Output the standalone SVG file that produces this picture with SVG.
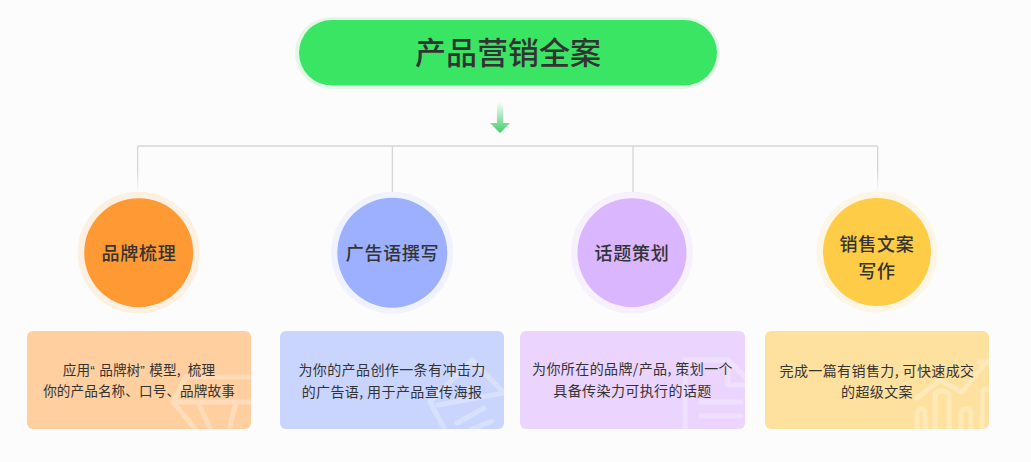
<svg xmlns="http://www.w3.org/2000/svg" width="1031" height="462" viewBox="0 0 1031 462">
<style>
text{font-family:"Noto Sans CJK SC","Noto Sans",sans-serif;fill:#333;text-anchor:middle}
.t{font-size:31px;font-weight:500}
.c{font-size:18px;font-weight:500;letter-spacing:.7px}
.d{font-size:14px;letter-spacing:.4px}
.e{font-size:13.600px;letter-spacing:.1px}
.q{font-family:"Liberation Sans",sans-serif;letter-spacing:4.500px}
.w{fill:none;stroke:#fff;stroke-opacity:.27;stroke-width:5;stroke-linecap:round;stroke-linejoin:round}
.l{stroke:#d6d6d6;stroke-width:1.300;fill:none}
</style>
<defs>
<linearGradient id="ag" x1="0" y1="0" x2="0" y2="1"><stop offset="0" stop-color="#3fcf68" stop-opacity="0"/><stop offset="1" stop-color="#3fcf68"/></linearGradient>
<linearGradient id="lg" x1="0" y1="0" x2="0" y2="1"><stop offset="0" stop-color="#d6d6d6"/><stop offset=".55" stop-color="#d6d6d6"/><stop offset="1" stop-color="#d6d6d6" stop-opacity=".1"/></linearGradient>
<clipPath id="c1"><rect x="27" y="331" width="224" height="98" rx="6"/></clipPath>
<clipPath id="c2"><rect x="280" y="331" width="224" height="98" rx="6"/></clipPath>
<clipPath id="c3"><rect x="520" y="331" width="225" height="98" rx="6"/></clipPath>
<clipPath id="c4"><rect x="765" y="331" width="224" height="98" rx="6"/></clipPath>
</defs>
<rect width="1031" height="462" fill="#fcfcfc"/>
<g id="connectors">
<path d="M497 102h6v21h7l-10 10-10-10h7z" fill="url(#ag)"/>
<path class="l" d="M137.500 146H877.500"/>
<rect x="137" y="146" width="1.300" height="45" fill="url(#lg)"/>
<rect x="877" y="146" width="1.300" height="45" fill="url(#lg)"/>
<path d="M391.700 146h1.300v46h-1.300zM632.400 146h1.300v46h-1.300z" fill="#d6d6d6"/>
</g>
<g id="title">
<rect x="295" y="17" width="425" height="72" rx="36" fill="#e3f7e8"/>
<rect x="299" y="20" width="418" height="65.500" rx="32.700" fill="#3ae564"/>
<text class="t" x="508" y="64">产品营销全案</text>
</g>
<g id="node1">
<circle cx="138.700" cy="252.700" r="61" fill="#fcf0e3"/>
<circle cx="138.700" cy="252.700" r="54.500" fill="#ff9933"/>
<text class="c" x="139" y="260">品牌梳理</text>
</g>
<g id="node2">
<circle cx="392.300" cy="252.700" r="61" fill="#f0f3fd"/>
<circle cx="392.300" cy="252.700" r="55" fill="#9cb0ff"/>
<text class="c" x="392.500" y="260">广告语撰写</text>
</g>
<g id="node3">
<circle cx="632" cy="252.700" r="61" fill="#f6f1fd"/>
<circle cx="632" cy="252.700" r="54.500" fill="#dab6ff"/>
<text class="c" x="632" y="260">话题策划</text>
</g>
<g id="node4">
<circle cx="877" cy="252" r="60.500" fill="#fdf6e7"/>
<circle cx="877" cy="252" r="54" fill="#ffcc47"/>
<text class="c" x="877" y="251">销售文案</text>
<text class="c" x="877" y="277.500">写作</text>
</g>
<g id="card1">
<rect x="27" y="331" width="224" height="98" rx="6" fill="#ffcf9f"/>
<g clip-path="url(#c1)"><path class="w" stroke-width="4.500" d="M186 377H262M186 377L173 402L206 442M173 402H262M198 402L216 442M236 402L226 442M262 402L246 442"/></g>
<text class="e" x="139" y="375">应用<tspan class="q">“</tspan>品牌树<tspan class="q">”</tspan>模型,<tspan dx="4"> 梳理</tspan></text>
<text class="e" x="139" y="395.500">你的产品名称、口号、品牌故事</text>
</g>
<g id="card2">
<rect x="280" y="331" width="224" height="98" rx="6" fill="#c9d5ff"/>
<g clip-path="url(#c2)"><path class="w" d="M430 402L472 360L510 399M430 402L446 432M438 405L510 392"/><path class="w" d="M457 423L484 408M472 429L492 421"/></g>
<text class="d" x="392" y="374.500">为你的产品创作一条有冲击力</text>
<text class="d" x="392" y="396.500">的广告语, 用于产品宣传海报</text>
</g>
<g id="card3">
<rect x="520" y="331" width="225" height="98" rx="6" fill="#ebd5ff"/>
<g clip-path="url(#c3)"><path class="w" d="M685 440V360H728L748 380V440M728 360V385H748"/><path class="w" d="M701 402H741M701 416H741"/></g>
<text class="d" x="632.500" y="374">为你所在的品牌/产品, 策划一个</text>
<text class="d" x="632.500" y="395.500">具备传染力可执行的话题</text>
</g>
<g id="card4">
<rect x="765" y="331" width="224" height="98" rx="6" fill="#ffe19f"/>
<g clip-path="url(#c4)"><path class="w" d="M917 398L940 380L962 392L985 364M979 362H992"/><path class="w" d="M917 440V414Q917 409 921 409Q925 409 925 414V440M935 440V396Q935 391 942 391Q949 391 949 396V440M961 440V414Q961 409 966 409Q971 409 971 414V440M982 440V394Q982 389 988 389Q994 389 994 394V440"/></g>
<text class="d" x="877" y="375.500">完成一篇有销售力, 可快速成交</text>
<text class="d" x="877" y="397">的超级文案</text>
</g>
</svg>
